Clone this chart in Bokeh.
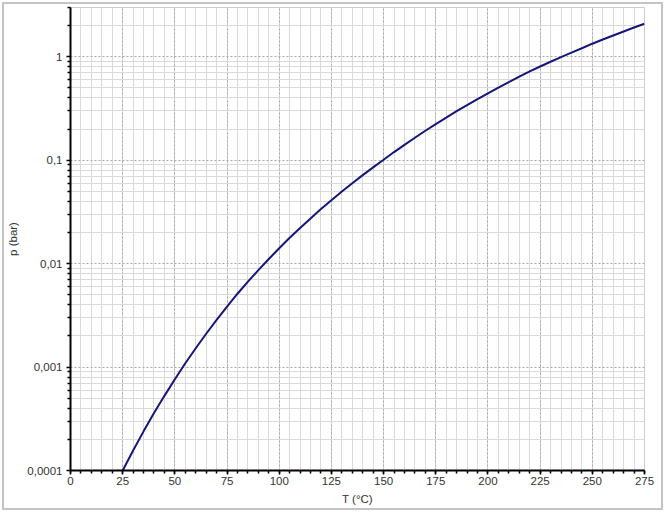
from bokeh.plotting import figure
from bokeh.models import FixedTicker, ColumnDataSource
from bokeh.embed import file_html
from bokeh.resources import INLINE

# Temperature (°C) and vapour pressure (bar)
temperature = [25, 30, 35, 40, 45, 50, 55, 60, 65, 70, 75, 80, 85, 90, 95, 100,
               105, 110, 115, 120, 125, 130, 135, 140, 145, 150, 155, 160, 165,
               170, 175, 180, 185, 190, 195, 200, 205, 210, 215, 220, 225, 230,
               235, 240, 245, 250, 255, 260, 265, 270, 275]
pressure = [0.0001, 0.000156, 0.000239, 0.000359, 0.000527, 0.000764, 0.00109,
            0.00152, 0.00210, 0.00286, 0.00385, 0.00512, 0.00670, 0.00867,
            0.0111, 0.0141, 0.0178, 0.0221, 0.0274, 0.0337, 0.0411, 0.0499,
            0.0600, 0.0718, 0.0853, 0.101, 0.120, 0.141, 0.165, 0.193, 0.224,
            0.258, 0.298, 0.341, 0.390, 0.444, 0.505, 0.570, 0.644, 0.723,
            0.807, 0.897, 0.995, 1.10, 1.21, 1.34, 1.47, 1.61, 1.76, 1.92, 2.09]

x_major_ticks = [0, 25, 50, 75, 100, 125, 150, 175, 200, 225, 250, 275]
x_minor_ticks = list(range(0, 276, 5))
y_major_ticks = [0.0001, 0.001, 0.01, 0.1, 1]
y_major_labels = ["0,0001", "0,001", "0,01", "0,1", "1"]
y_minor_ticks = [m * 10.0 ** e for e in range(-4, 1) for m in range(2, 10)] + [2, 3]

x_label = "T (°C)"
y_label = "p (bar)"

source = ColumnDataSource(data=dict(T=temperature, p=pressure))

p = figure(width=657, height=504, y_axis_type="log",
           x_range=(0, 275), y_range=(0.0001, 3),
           output_backend="svg", toolbar_location=None,
           min_border_left=66, min_border_right=17,
           min_border_top=3, min_border_bottom=38)
p.styles = {"margin-left": "4px", "margin-top": "4px",
            "outline": "2px solid #c4c4c4"}

p.line("T", "p", source=source, line_color="#15157a", line_width=2)

p.xaxis.ticker = FixedTicker(ticks=x_major_ticks, minor_ticks=x_minor_ticks)
p.yaxis.ticker = FixedTicker(ticks=y_major_ticks, minor_ticks=y_minor_ticks)
p.yaxis.major_label_overrides = {t: l for t, l in zip(y_major_ticks, y_major_labels)}

p.xaxis.axis_label = x_label
p.yaxis.axis_label = y_label

for ax in (p.xaxis, p.yaxis):
    ax.axis_line_color = "black"
    ax.axis_line_width = 2
    ax.major_tick_line_color = "black"
    ax.minor_tick_line_color = "black"
    ax.major_tick_line_width = 1.5
    ax.minor_tick_line_width = 1.5
    ax.major_tick_in = 0
    ax.major_tick_out = 4
    ax.minor_tick_in = 0
    ax.minor_tick_out = 3
    ax.major_label_text_font = "Liberation Sans"
    ax.major_label_text_font_size = "11.5px"
    ax.major_label_text_color = "#333333"
    ax.axis_label_text_font = "Liberation Sans"
    ax.axis_label_text_font_size = "11.5px"
    ax.axis_label_text_font_style = "normal"
    ax.axis_label_text_color = "#333333"
    ax.axis_label_standoff = 5

p.xaxis.major_label_standoff = 2
p.yaxis.major_label_standoff = 4

for g in (p.xgrid, p.ygrid):
    g.grid_line_color = "#a8a8a8"
    g.grid_line_dash = "2 2"
    g.grid_line_width = 1
    g.minor_grid_line_color = "#dadada"
    g.minor_grid_line_width = 1

p.outline_line_color = "#cccccc"
p.background_fill_color = "white"
p.border_fill_color = "white"

open("out.html", "w").write(file_html(p, INLINE))
